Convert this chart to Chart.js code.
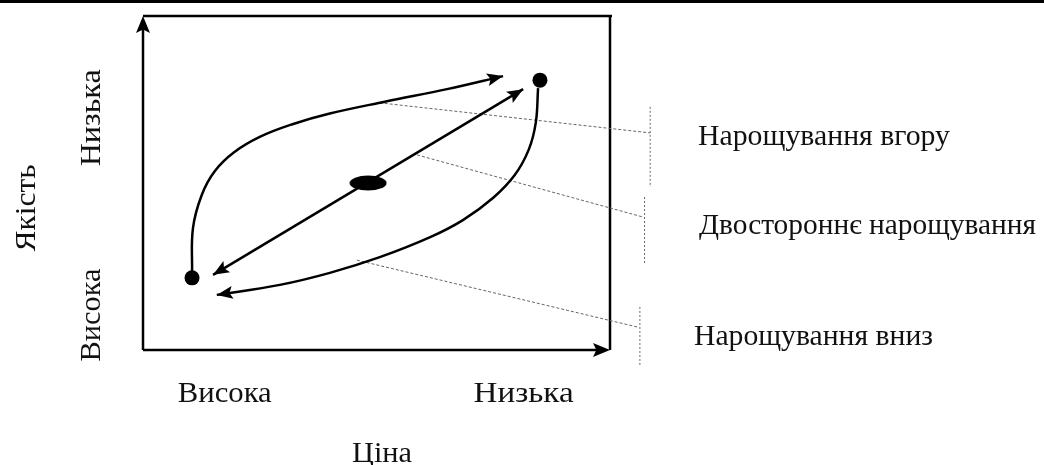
<!DOCTYPE html>
<html lang="uk">
<head>
<meta charset="utf-8">
<title>Якість і ціна</title>
<script src="https://cdn.jsdelivr.net/npm/chart.js@4.4.1/dist/chart.umd.min.js"></script>
<style>
  html, body { margin: 0; padding: 0; background: #fff; }
  #wrap { width: 1044px; height: 465px; }
</style>
</head>
<body>
<div id="wrap"><canvas id="chart" width="1044" height="465"></canvas></div>
<script>
// axis categories (frame runs 0..100 on both axes)
const xTickLabels = ['Висока', 'Низька'];
const xTickValues = [17.5, 81.5];
const yTickLabels = ['Висока', 'Низька'];
const yTickValues = [10.5, 69.5];
const xTitle = 'Ціна';
const yTitle = 'Якість';
const strategyLabels = ['Нарощування вгору', 'Двостороннє нарощування', 'Нарощування вниз'];

// positions
const lowEnd = [{ x: 10.5, y: 21.6 }];
const highEnd = [{ x: 85.0, y: 80.8 }];
const startPos = [{ x: 48.2, y: 50.0 }];
const upCurve = [
    { x: 10.5, y: 23.4 }, { x: 10.7, y: 36.5 }, { x: 12.6, y: 46.5 }, { x: 15.4, y: 53.6 },
    { x: 19.5, y: 59.2 }, { x: 25.0, y: 63.8 }, { x: 32.0, y: 67.6 }, { x: 40.0, y: 70.8 },
    { x: 52.0, y: 74.4 }, { x: 65.1, y: 78.1 }, { x: 77.1, y: 82.0 }
];
const downCurve = [
    { x: 84.6, y: 78.4 }, { x: 84.1, y: 68.0 }, { x: 82.6, y: 60.0 }, { x: 79.6, y: 52.4 },
    { x: 75.0, y: 45.6 }, { x: 68.5, y: 38.9 }, { x: 61.5, y: 33.8 }, { x: 50.7, y: 27.8 },
    { x: 40.0, y: 23.1 }, { x: 29.3, y: 19.5 }, { x: 15.8, y: 16.5 }
];
const twoWay = [{ x: 15.0, y: 22.5 }, { x: 81.4, y: 78.1 }];
const leaderUp = [{ x: 50.7, y: 74.0 }, { x: 108.6, y: 65.0 }];
const leaderTwo = [{ x: 58.7, y: 58.4 }, { x: 107.1, y: 39.8 }];
const leaderDown = [{ x: 45.8, y: 26.9 }, { x: 105.8, y: 6.9 }];
const bracketUp = [{ x: 108.6, y: 72.8 }, { x: 108.6, y: 48.8 }];
const bracketTwo = [{ x: 107.4, y: 45.8 }, { x: 107.4, y: 26.0 }];
const bracketDown = [{ x: 106.4, y: 12.9 }, { x: 106.4, y: -4.5 }];

const FONT = '30px "Liberation Serif"';
const INK = '#111';

// ellipse marker for the starting position
const ellipse = document.createElement('canvas');
ellipse.width = 38;
ellipse.height = 16;
(function () {
    const c = ellipse.getContext('2d');
    c.fillStyle = '#000';
    c.beginPath();
    c.ellipse(19, 8, 18.5, 7.5, 0, 0, Math.PI * 2);
    c.fill();
})();

function lineSet(data, extra) {
    return Object.assign({
        data: data,
        borderColor: '#000',
        borderWidth: 2.5,
        pointRadius: 0,
        tension: 0,
        fill: false,
        clip: false
    }, extra || {});
}

function dashSet(data, dash) {
    return lineSet(data, { borderColor: '#666', borderWidth: 1, borderDash: dash });
}

function arrowHead(ctx, x, y, fromX, fromY, len, half) {
    const a = Math.atan2(y - fromY, x - fromX);
    ctx.save();
    ctx.translate(x, y);
    ctx.rotate(a);
    ctx.beginPath();
    ctx.moveTo(0, 0);
    ctx.lineTo(-len, -half);
    ctx.lineTo(-len * 0.8, 0);
    ctx.lineTo(-len, half);
    ctx.closePath();
    ctx.fill();
    ctx.restore();
}

function fitText(ctx, text, x, y, width, angle, align) {
    ctx.save();
    ctx.translate(x, y);
    if (angle) ctx.rotate(angle);
    ctx.textAlign = align || 'center';
    ctx.textBaseline = 'alphabetic';
    const w = ctx.measureText(text).width;
    ctx.scale(width / w, 1);
    ctx.fillText(text, 0, 0);
    ctx.restore();
}

const diagramPlugin = {
    id: 'diagram',
    beforeDatasetsDraw(chart) {
        const ctx = chart.ctx;
        const { left, top, right, bottom } = chart.chartArea;
        ctx.save();
        ctx.fillStyle = '#000';
        ctx.fillRect(0, 0, chart.width, 3);
        ctx.strokeStyle = '#000';
        ctx.lineWidth = 2.5;
        ctx.beginPath();
        ctx.moveTo(left, bottom);
        ctx.lineTo(left, top + 10);
        ctx.moveTo(left, top);
        ctx.lineTo(right + 2, top);
        ctx.moveTo(right, top);
        ctx.lineTo(right, bottom);
        ctx.moveTo(left, bottom);
        ctx.lineTo(right - 10, bottom);
        ctx.stroke();
        ctx.fillStyle = '#000';
        arrowHead(ctx, left, top, left, bottom, 17, 7);
        arrowHead(ctx, right, bottom, left, bottom, 17, 7);
        ctx.restore();
    },
    afterDatasetsDraw(chart) {
        const ctx = chart.ctx;
        const xs = chart.scales.x;
        const ys = chart.scales.y;
        ctx.save();
        ctx.fillStyle = '#000';

        // arrow heads at curve ends
        [0, 1].forEach(i => {
            const pts = chart.getDatasetMeta(i).data;
            const end = pts[pts.length - 1];
            const fx = end.cp1x !== undefined ? end.cp1x : pts[pts.length - 2].x;
            const fy = end.cp1y !== undefined ? end.cp1y : pts[pts.length - 2].y;
            arrowHead(ctx, end.x, end.y, fx, fy, 16, 6.5);
        });
        const d = chart.getDatasetMeta(2).data;
        arrowHead(ctx, d[0].x, d[0].y, d[1].x, d[1].y, 16, 6.5);
        arrowHead(ctx, d[1].x, d[1].y, d[0].x, d[0].y, 16, 6.5);

        // texts
        ctx.fillStyle = INK;
        ctx.font = FONT;
        const xWidths = [94, 100];
        xTickLabels.forEach((t, i) => fitText(ctx, t, xs.getPixelForValue(xTickValues[i]), 402, xWidths[i]));
        const yWidths = [93, 97];
        yTickLabels.forEach((t, i) => fitText(ctx, t, 100, ys.getPixelForValue(yTickValues[i]), yWidths[i], -Math.PI / 2));
        fitText(ctx, xTitle, 382, 462, 60);
        fitText(ctx, yTitle, 35, 208, 87, -Math.PI / 2);

        const sx = [698, 699, 694];
        const sy = [145, 234, 345];
        const sw = [252, 337, 239];
        strategyLabels.forEach((t, i) => fitText(ctx, t, sx[i], sy[i], sw[i], 0, 'left'));
        ctx.restore();
    }
};

function build() {
    new Chart(document.getElementById('chart'), {
        type: 'line',
        data: {
            datasets: [
                lineSet(upCurve, { tension: 0.4 }),
                lineSet(downCurve, { tension: 0.4 }),
                lineSet(twoWay),
                dashSet(leaderUp, [3, 2]),
                dashSet(leaderTwo, [3, 2]),
                dashSet(leaderDown, [3, 2]),
                dashSet(bracketUp, [2, 2]),
                dashSet(bracketTwo, [2, 2]),
                dashSet(bracketDown, [2, 2]),
                { data: lowEnd.concat(highEnd), showLine: false, pointRadius: 7.5, backgroundColor: '#000', borderColor: '#000', borderWidth: 0, clip: false },
                { data: startPos, showLine: false, pointStyle: ellipse, backgroundColor: '#000', borderColor: '#000', clip: false }
            ]
        },
        options: {
            responsive: false,
            animation: false,
            events: [],
            layout: { padding: { left: 143, top: 16, right: 434, bottom: 115 } },
            plugins: { legend: { display: false }, tooltip: { enabled: false } },
            scales: {
                x: { type: 'linear', min: 0, max: 100, display: false },
                y: { type: 'linear', min: 0, max: 100, display: false }
            }
        },
        plugins: [diagramPlugin]
    });
}

if (document.fonts && document.fonts.load) {
    document.fonts.load(FONT, 'Нарощування').then(build, build);
} else {
    build();
}
</script>
</body>
</html>
